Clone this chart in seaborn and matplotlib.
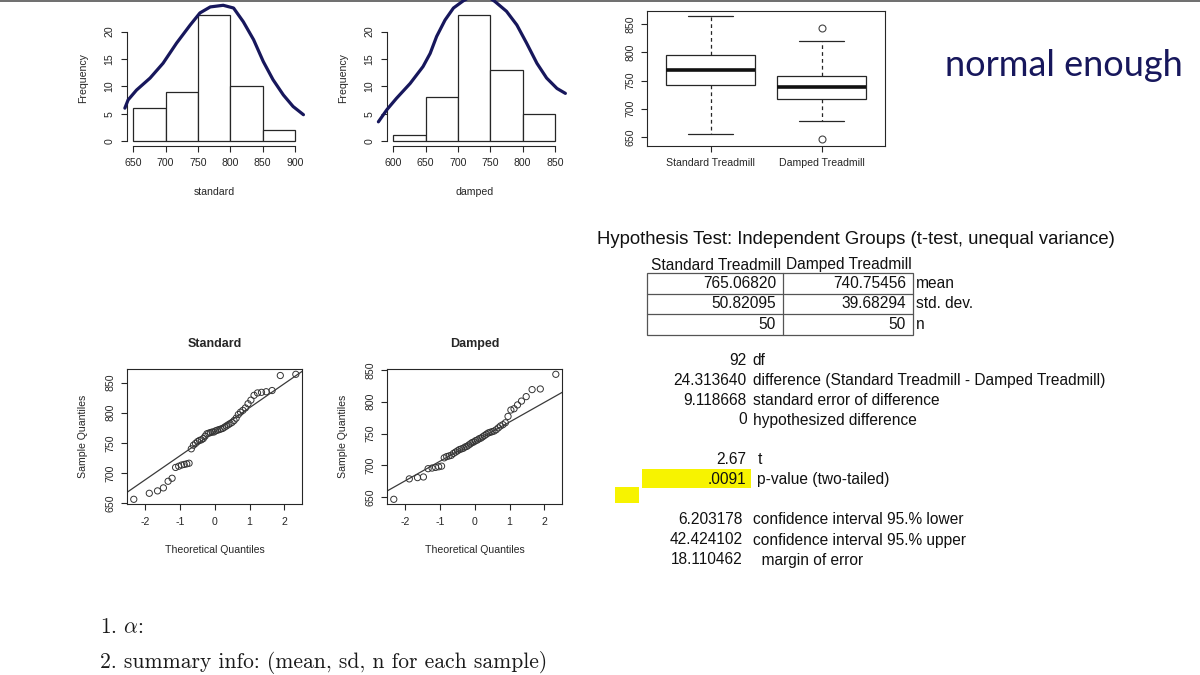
import numpy as np
import pandas as pd
import matplotlib
matplotlib.use("Agg")
import matplotlib.pyplot as plt
import seaborn as sns
from statistics import NormalDist
from matplotlib.patches import Rectangle
from matplotlib.lines import Line2D

# ---------------- data ----------------
standard = [656, 666, 670, 675, 686, 691, 709, 711, 713, 714, 715, 716, 740, 746, 749,
            752, 754, 755, 757, 761, 765, 766, 767, 768, 768, 770, 771, 772, 773, 774,
            776, 778, 780, 782, 784, 787, 791, 797,
            801, 804, 808, 815, 821, 829, 833, 834, 835, 837, 862, 864]
damped = [647, 679, 681, 682, 695, 696, 697, 698, 699, 712, 714, 715, 716, 719, 721,
          723, 725, 726, 727, 729, 730, 732, 734, 736, 737,
          739, 740, 742, 743, 745, 747, 749, 751, 752, 753, 754, 756, 759, 762, 764, 767,
          777, 787, 789, 795, 801, 808, 819, 820, 843]

std_bins = [650, 700, 750, 800, 850, 900]
damped_bins = [600, 650, 700, 750, 800, 850]
freq_ticks = [0, 5, 10, 15, 20]
box_ticks = [650, 700, 750, 800, 850]
qq_xticks = [-2, -1, 0, 1, 2]
qq_yticks = [650, 700, 750, 800, 850]
groups = ["Standard Treadmill", "Damped Treadmill"]

# hand-drawn curves over the histograms (x in data units, y in frequency)
std_curve_x = [637, 642, 655, 676, 696, 717, 738, 753, 769, 789, 805, 820, 836, 851, 866, 882, 897, 913]
std_curve_y = [6.0, 7.5, 9.3, 11.5, 14.2, 17.9, 21.2, 23.4, 24.5, 24.8, 24.3, 21.8, 18.5, 14.5, 11.2, 8.4, 6.3, 4.8]
damped_curve_x = [577, 590, 605, 626, 646, 657, 667, 680, 693, 708, 720, 734, 746, 757, 775, 791, 806, 822, 837, 853, 866]
damped_curve_y = [3.5, 5.7, 7.8, 10.5, 13.6, 16.0, 19.1, 22.1, 24.3, 25.6, 26.4, 26.7, 26.4, 25.5, 23.7, 21.2, 17.9, 14.2, 11.5, 9.6, 8.7]

title_text = "Hypothesis Test: Independent Groups (t-test, unequal variance)"
table_header = ["Standard Treadmill", "Damped Treadmill"]
table_col1 = ["765.06820", "50.82095", "50"]
table_col2 = ["740.75456", "39.68294", "50"]
table_rows = ["mean", "std. dev.", "n"]
stat_values = ["92", "24.313640", "9.118668", "0", "2.67", ".0091", "6.203178", "42.424102", "18.110462"]
stat_labels = ["df", "difference (Standard Treadmill - Damped Treadmill)",
               "standard error of difference", "hypothesized difference", "t",
               "p-value (two-tailed)", "confidence interval 95.% lower",
               "confidence interval 95.% upper", "  margin of error"]
handwriting = "normal enough"
notes = ["1. $\\alpha$:", "2. summary info: (mean, sd, n for each sample)"]

# ---------------- style ----------------
sns.set_style("white")
plt.rcParams["font.family"] = ["Liberation Sans", "DejaVu Sans"]
plt.rcParams["mathtext.fontset"] = "cm"
plt.rcParams["axes.unicode_minus"] = False
DARK = "#262626"
NAVY = "#17175c"

W, H = 1200, 675
fig = plt.figure(figsize=(12, 6.75), dpi=100)
fig.patch.set_facecolor("white")


def px_axes(l, t, r, b):
    return fig.add_axes([l / W, 1 - b / H, (r - l) / W, (b - t) / H])


def base_ticks(ax):
    ax.tick_params(axis="both", direction="out", length=4.3, width=0.8, color=DARK,
                   labelsize=7.6, labelcolor=DARK, pad=4.5,
                   bottom=True, left=True, top=False, right=False)


def label(ax, x, y, s, rot=0, **kw):
    ax.text(x, y, s, transform=ax.transAxes, ha="center", va="center",
            rotation=rot, fontsize=7.6, color=DARK, **kw)


# ---------------- histograms ----------------
def hist_panel(l, values, bins, cx, cy, xlabel):
    ax = px_axes(l, 10.1, l + 174.7, 146)
    sns.histplot(x=values, bins=bins, ax=ax, color="white", edgecolor=DARK,
                 linewidth=0.9, alpha=1)
    ax.set_xlim(bins[0] - 0.04 * (bins[-1] - bins[0]), bins[-1] + 0.04 * (bins[-1] - bins[0]))
    ax.set_ylim(-0.92, 23.92)
    for s in ["top", "right"]:
        ax.spines[s].set_visible(False)
    for s in ["left", "bottom"]:
        ax.spines[s].set_color(DARK)
        ax.spines[s].set_linewidth(0.8)
    ax.spines["left"].set_bounds(freq_ticks[0], freq_ticks[-1])
    ax.spines["bottom"].set_bounds(bins[0], bins[-1])
    ax.set_xticks(bins)
    ax.set_yticks(freq_ticks, [str(t) for t in freq_ticks], rotation=90, va="center")
    base_ticks(ax)
    ax.set_xlabel("")
    ax.set_ylabel("")
    ax.plot(cx, cy, color=NAVY, lw=2.3, clip_on=False, zorder=6,
            solid_capstyle="round", solid_joinstyle="round")
    label(ax, -0.251, 0.5, "Frequency", rot=90)
    label(ax, 0.5, -0.336, xlabel)
    return ax


hist_panel(126.8, standard, std_bins, std_curve_x, std_curve_y, "standard")
hist_panel(386.8, damped, damped_bins, damped_curve_x, damped_curve_y, "damped")

# ---------------- boxplot ----------------
axb = px_axes(647.3, 10.7, 885, 146)
df = pd.DataFrame({"group": [groups[0]] * len(standard) + [groups[1]] * len(damped),
                   "value": standard + damped})
sns.boxplot(data=df, x="group", y="value", order=groups, ax=axb, color="white",
            linecolor=DARK, linewidth=0.9, width=0.8, whis=1.6, fliersize=5,
            flierprops=dict(marker="o", markerfacecolor="none", markeredgecolor="#444444",
                            markeredgewidth=0.8),
            whiskerprops=dict(linestyle=(0, (3, 2.5))),
            medianprops=dict(linewidth=2.6, color="#111111"))
axb.set_xlim(-0.57, 1.57)
axb.set_ylim(634, 874)
axb.set_yticks(box_ticks, [str(t) for t in box_ticks], rotation=90, va="center")
base_ticks(axb)
axb.set_xlabel("")
axb.set_ylabel("")
for s in axb.spines.values():
    s.set_visible(True)
    s.set_color(DARK)
    s.set_linewidth(0.8)

# ---------------- QQ plots ----------------
def qq_panel(l, values, title):
    ax = px_axes(l, 369.3, l + 175, 504.3)
    n = len(values)
    sample = sorted(values)
    nd = NormalDist()
    theo = [nd.inv_cdf((i - 0.5) / n) for i in range(1, n + 1)]
    sns.scatterplot(x=theo, y=sample, ax=ax, s=20, marker="o", linewidth=0.7)
    coll = ax.collections[-1]
    coll.set_facecolor("none")
    coll.set_edgecolor("#333333")
    ax.margins(x=0.04, y=0.04)
    q1, q3 = np.quantile(sample, [0.25, 0.75])
    z1, z3 = nd.inv_cdf(0.25), nd.inv_cdf(0.75)
    ax.axline((z1, q1), (z3, q3), color="#3a3a3a", lw=0.9)
    ax.set_xticks(qq_xticks)
    ax.set_yticks(qq_yticks, [str(t) for t in qq_yticks], rotation=90, va="center")
    base_ticks(ax)
    for s in ax.spines.values():
        s.set_visible(True)
        s.set_color(DARK)
        s.set_linewidth(0.8)
    label(ax, 0.5, 1.187, title, fontweight="bold")
    ax.texts[-1].set_fontsize(9)
    label(ax, 0.5, -0.339, "Theoretical Quantiles")
    label(ax, -0.253, 0.5, "Sample Quantiles", rot=90)
    return ax


qq_panel(127.3, standard, "Standard")
qq_panel(387.3, damped, "Damped")

# ---------------- text overlay ----------------
axo = fig.add_axes([0, 0, 1, 1], zorder=-1)
axo.set_xlim(0, W)
axo.set_ylim(H, 0)
axo.axis("off")

axo.add_line(Line2D([0, W], [0.6, 0.6], color="#6e6e6e", lw=1.4))

# handwriting note
axo.text(945, 76, handwriting, fontsize=26, color=NAVY, ha="left", va="baseline",
         family=["Lato", "DejaVu Sans"])

# title and table
axo.text(597, 240, title_text, fontsize=13.3, color="#111111", ha="left", va="center")
axo.text(651, 265, table_header[0], fontsize=11.2, color="#111111", ha="left", va="center")
axo.text(786, 265, table_header[1], fontsize=11.2, color="#111111", ha="left", va="center")
row_y = [283.2, 304.0, 324.7]
for yv, a, b, r in zip(row_y, table_col1, table_col2, table_rows):
    axo.text(776, yv, a, fontsize=11.2, color="#111111", ha="right", va="center")
    axo.text(906, yv, b, fontsize=11.2, color="#111111", ha="right", va="center")
    axo.text(916, yv, r, fontsize=11.2, color="#111111", ha="left", va="center")
tl, tm, tr = 646.7, 782.7, 913.3
tt, tb = 272.7, 335.0
axo.add_patch(Rectangle((tl, tt), tr - tl, tb - tt, fill=False, ec="#555555", lw=0.9))
axo.add_line(Line2D([tm, tm], [tt, tb], color="#555555", lw=0.9))
for yv in [293.7, 314.3]:
    axo.add_line(Line2D([tl, tr], [yv, yv], color="#555555", lw=0.9))

# yellow highlight
axo.add_patch(Rectangle((641.7, 469.3), 109, 19, fc="#f7f300", ec="none"))
axo.add_patch(Rectangle((615, 486.7), 24, 16, fc="#f7f300", ec="none"))

stat_y = [360.7, 380.7, 400.7, 420.0, 460.0, 479.3, 520.0, 540.0, 560.0]
num_right = [746.7, 746.7, 746.7, 746.7, 746.7, 746.7, 742.7, 742.7, 742.7]
lab_left = [752.7, 752.7, 752.7, 752.7, 757.3, 757.3, 752.7, 752.7, 752.7]
for yv, v, lb, xr, xl in zip(stat_y, stat_values, stat_labels, num_right, lab_left):
    axo.text(xr, yv, v, fontsize=11.2, color="#111111", ha="right", va="center")
    axo.text(xl, yv, lb, fontsize=11.2, color="#111111", ha="left", va="center")

# bottom notes (serif)
axo.text(100, 633.3, notes[0], fontsize=15.5, color="#1a1a1a", ha="left", va="baseline",
         family="cmr10")
axo.text(100, 668, notes[1], fontsize=15.5, color="#1a1a1a", ha="left", va="baseline",
         family="cmr10")

fig.savefig("out.png", dpi=100, facecolor="white")
